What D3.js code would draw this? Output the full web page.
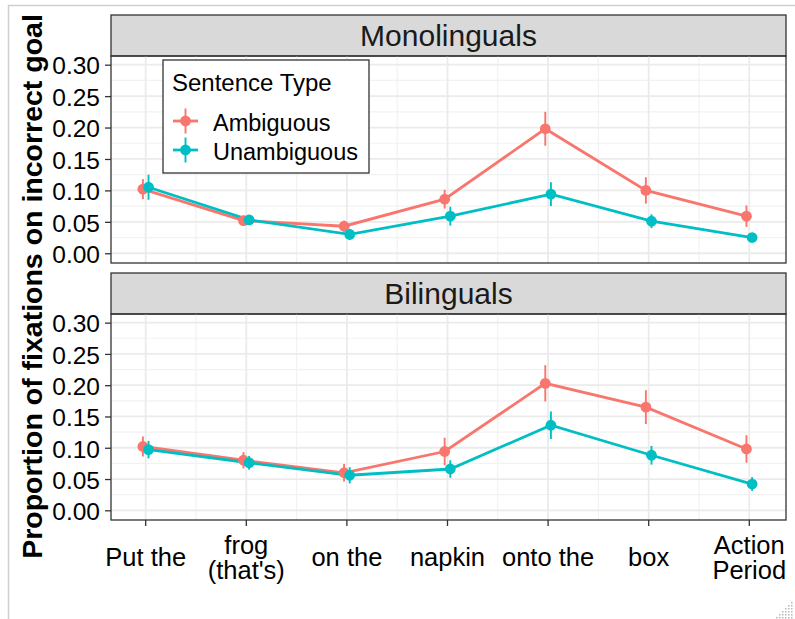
<!DOCTYPE html>
<html>
<head>
<meta charset="utf-8">
<script src="https://cdn.jsdelivr.net/npm/d3@7"></script>
<style>
    body { margin: 0; background: white; }
    text { font-family: Arial, "Liberation Sans", sans-serif; }
</style>
</head>
<body>
<div id="chart"></div>
<script>
//x axis categories (one entry per line of the label)
var categories = [["Put the"], ["frog", "(that's)"], ["on the"], ["napkin"], ["onto the"], ["box"], ["Action", "Period"]];
var seriesNames = ["Ambiguous", "Unambiguous"];
var yTicks = [0, 0.05, 0.10, 0.15, 0.20, 0.25, 0.30];

//monolinguals: means and error bar half widths
var monoAmbig = [0.102, 0.052, 0.043, 0.086, 0.198, 0.100, 0.059];
var monoAmbigErr = [0.016, 0.008, 0.009, 0.015, 0.027, 0.021, 0.017];
var monoUnambig = [0.105, 0.053, 0.030, 0.059, 0.094, 0.051, 0.025];
var monoUnambigErr = [0.020, 0.008, 0.009, 0.015, 0.019, 0.011, 0.005];

//bilinguals
var biAmbig = [0.102, 0.080, 0.060, 0.094, 0.203, 0.165, 0.098];
var biAmbigErr = [0.016, 0.013, 0.014, 0.022, 0.029, 0.027, 0.022];
var biUnambig = [0.097, 0.076, 0.056, 0.066, 0.136, 0.088, 0.042];
var biUnambigErr = [0.014, 0.011, 0.013, 0.014, 0.022, 0.015, 0.011];

var colors = {Ambiguous: "#F8766D", Unambiguous: "#00BFC4"};
var dodge = {Ambiguous: -0.028, Unambiguous: 0.028};

var panels = [
    {title: "Monolinguals", top: 56, bottom: 263, strip: 15,
        series: {Ambiguous: [monoAmbig, monoAmbigErr], Unambiguous: [monoUnambig, monoUnambigErr]}},
    {title: "Bilinguals", top: 314, bottom: 520, strip: 273,
        series: {Ambiguous: [biAmbig, biAmbigErr], Unambiguous: [biUnambig, biUnambigErr]}}
];

var left = 111, right = 786;

var svg = d3.select("#chart").append("svg")
    .attr("width", 795)
    .attr("height", 619);

//window frame lines
svg.append("line").attr("x1", 8).attr("x2", 795).attr("y1", 5.5).attr("y2", 5.5)
    .style("stroke", "#cfcfcf").style("stroke-width", 1.5);
svg.append("line").attr("x1", 8.5).attr("x2", 8.5).attr("y1", 5).attr("y2", 619)
    .style("stroke", "#cfcfcf").style("stroke-width", 1.5);

//resize grip in the corner
var grip = [];
for (var a = 0; a < 6; a++) {
    for (var b = 0; b <= a; b++) grip.push([791 - b * 3, 602 + a * 3]);
}
svg.append("g").selectAll("rect").data(grip).enter().append("rect")
    .attr("x", (d) => d[0]).attr("y", (d) => d[1])
    .attr("width", 1.5).attr("height", 1.5)
    .style("fill", "#b8b8b8");

var x = d3.scaleLinear()
    .domain([0.655, 7.365])
    .range([left, right]);

var xIndex = d3.range(1, categories.length + 1);

panels.forEach(function(p) {
    var y = d3.scaleLinear()
        .domain([-0.0155, 0.3138])
        .range([p.bottom, p.top]);

    var g = svg.append("g");

    //strip
    g.append("rect")
        .attr("x", left).attr("y", p.strip)
        .attr("width", right - left).attr("height", p.top - p.strip)
        .style("fill", "#d9d9d9").style("stroke", "#333").style("stroke-width", 1.3);
    g.append("text")
        .attr("x", (left + right) / 2)
        .attr("y", (p.strip + p.top) / 2 + 10.5)
        .style("text-anchor", "middle")
        .style("font-size", "30px")
        .style("fill", "#1a1a1a")
        .text(p.title);

    //minor grid
    var minorY = d3.range(0.025, 0.3, 0.05);
    var minorX = d3.range(1.5, 7, 1);
    g.selectAll(".minY").data(minorY).enter().append("line")
        .attr("x1", left).attr("x2", right)
        .attr("y1", (d) => y(d)).attr("y2", (d) => y(d))
        .style("stroke", "#f2f2f2").style("stroke-width", 1.2);
    g.selectAll(".minX").data(minorX).enter().append("line")
        .attr("y1", p.top).attr("y2", p.bottom)
        .attr("x1", (d) => x(d)).attr("x2", (d) => x(d))
        .style("stroke", "#f2f2f2").style("stroke-width", 1.2);

    //major grid
    g.selectAll(".majY").data(yTicks).enter().append("line")
        .attr("x1", left).attr("x2", right)
        .attr("y1", (d) => y(d)).attr("y2", (d) => y(d))
        .style("stroke", "#ebebeb").style("stroke-width", 1.8);
    g.selectAll(".majX").data(xIndex).enter().append("line")
        .attr("y1", p.top).attr("y2", p.bottom)
        .attr("x1", (d) => x(d)).attr("x2", (d) => x(d))
        .style("stroke", "#ebebeb").style("stroke-width", 1.8);

    //y axis
    var yAxis = g.append("g")
        .attr("transform", "translate(" + left + ",0)")
        .call(d3.axisLeft(y).tickValues(yTicks).tickFormat(d3.format(".2f")).tickSize(6).tickPadding(5));
    yAxis.select(".domain").remove();
    yAxis.selectAll(".tick line").style("stroke", "#333").style("stroke-width", 1.3);
    yAxis.selectAll(".tick text")
        .style("font-size", "24.5px")
        .style("font-family", "Arial, 'Liberation Sans', sans-serif")
        .style("fill", "black")
        .attr("dy", "0.38em");

    //lines
    seriesNames.forEach(function(s) {
        var vals = p.series[s][0];
        var line = d3.line()
            .x((d, i) => x(i + 1 + dodge[s]))
            .y((d) => y(d));
        g.append("path")
            .datum(vals)
            .attr("d", line)
            .style("fill", "none")
            .style("stroke", colors[s])
            .style("stroke-width", 2.8);
    });

    //point ranges
    seriesNames.forEach(function(s) {
        var vals = p.series[s][0];
        var errs = p.series[s][1];
        var pts = g.append("g").selectAll("g")
            .data(vals)
            .enter().append("g");
        pts.append("line")
            .attr("x1", (d, i) => x(i + 1 + dodge[s]))
            .attr("x2", (d, i) => x(i + 1 + dodge[s]))
            .attr("y1", (d, i) => y(d - errs[i]))
            .attr("y2", (d, i) => y(d + errs[i]))
            .style("stroke", colors[s])
            .style("stroke-width", 1.9);
        pts.append("circle")
            .attr("cx", (d, i) => x(i + 1 + dodge[s]))
            .attr("cy", (d) => y(d))
            .attr("r", 5.4)
            .style("fill", colors[s]);
    });

    //panel border
    g.append("rect")
        .attr("x", left).attr("y", p.top)
        .attr("width", right - left).attr("height", p.bottom - p.top)
        .style("fill", "none").style("stroke", "#333").style("stroke-width", 1.3);
});

//x axis ticks and labels under the bottom panel
var xAxis = svg.append("g");
xAxis.selectAll("line").data(xIndex).enter().append("line")
    .attr("x1", (d) => x(d)).attr("x2", (d) => x(d))
    .attr("y1", 520).attr("y2", 526)
    .style("stroke", "#333").style("stroke-width", 1.3);
xAxis.selectAll("text").data(categories).enter().append("text")
    .attr("x", (d, i) => x(i + 1))
    .attr("y", (d) => d.length == 1 ? 566 : 553.5)
    .style("text-anchor", "middle")
    .style("font-size", "25.5px")
    .style("fill", "black")
    .each(function(d, i) {
        var t = d3.select(this);
        d.forEach(function(part, j) {
            t.append("tspan")
                .attr("x", x(i + 1))
                .attr("dy", j == 0 ? 0 : 25.5)
                .text(part);
        });
    });

//y axis title
svg.append("text")
    .attr("transform", "translate(42,286.5) rotate(-90)")
    .style("text-anchor", "middle")
    .style("font-size", "28.5px")
    .style("font-weight", "bold")
    .style("fill", "black")
    .text("Proportion of fixations on incorrect goal");

//legend
var legend = svg.append("g");
legend.append("rect")
    .attr("x", 163).attr("y", 60)
    .attr("width", 206).attr("height", 113)
    .style("fill", "white").style("stroke", "#333").style("stroke-width", 1.3);
legend.append("text")
    .attr("x", 172).attr("y", 91)
    .style("font-size", "24px")
    .style("fill", "black")
    .text("Sentence Type");
seriesNames.forEach(function(s, i) {
    var cy = 121 + i * 29;
    legend.append("line")
        .attr("x1", 173).attr("x2", 198).attr("y1", cy).attr("y2", cy)
        .style("stroke", colors[s]).style("stroke-width", 2.8);
    legend.append("line")
        .attr("x1", 185.5).attr("x2", 185.5).attr("y1", cy - 12.5).attr("y2", cy + 12.5)
        .style("stroke", colors[s]).style("stroke-width", 1.9);
    legend.append("circle")
        .attr("cx", 185.5).attr("cy", cy).attr("r", 5.4)
        .style("fill", colors[s]);
    legend.append("text")
        .attr("x", 213).attr("y", cy + 9.5)
        .style("font-size", "23.5px")
        .style("fill", "black")
        .text(s);
});
</script>
</body>
</html>
